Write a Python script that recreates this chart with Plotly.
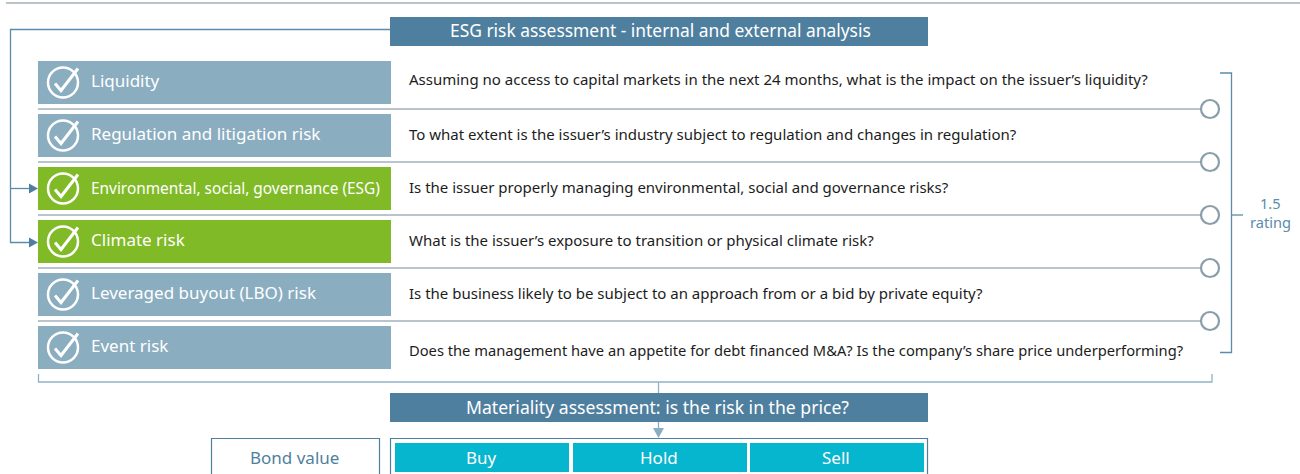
import plotly.graph_objects as go

risk_labels = ["Liquidity", "Regulation and litigation risk", "Environmental, social, governance (ESG)",
               "Climate risk", "Leveraged buyout (LBO) risk", "Event risk"]
questions = [
    "Assuming no access to capital markets in the next 24 months, what is the impact on the issuer\u2019s liquidity?",
    "To what extent is the issuer\u2019s industry subject to regulation and changes in regulation?",
    "Is the issuer properly managing environmental, social and governance risks?",
    "What is the issuer\u2019s exposure to transition or physical climate risk?",
    "Is the business likely to be subject to an approach from or a bid by private equity?",
    "Does the management have an appetite for debt financed M&A? Is the company\u2019s share price underperforming?",
]
highlighted = ["Environmental, social, governance (ESG)", "Climate risk"]
title_top = "ESG risk assessment - internal and external analysis"
title_mid = "Materiality assessment: is the risk in the price?"
left_box = "Bond value"
actions = ["Buy", "Hold", "Sell"]
rating = ["1.5", "rating"]

DARK, PALE, GREEN, CYAN = "#4f7f9f", "#8badc0", "#80ba27", "#06b6cf"
RULE, RING, LINE = "#b8c5cc", "#8a9ea9", "#5b8cab"
FONT = "Noto Sans"
shapes, ann = [], []


def rect(x0, y0, x1, y1, fill, line=None, lw=0):
    shapes.append(dict(type="rect", x0=x0, y0=y0, x1=x1, y1=y1, fillcolor=fill,
                       line=dict(color=line or fill, width=lw), layer="below"))


def seg(d, color=LINE, w=1.3):
    shapes.append(dict(type="path", path=d, line=dict(color=color, width=w), layer="below"))


def tri(d, color):
    shapes.append(dict(type="path", path=d, fillcolor=color, line=dict(color=color, width=0)))


def text(x, y, s, size, color, anchor="center"):
    ann.append(dict(x=x, y=y, text=s, showarrow=False, xanchor=anchor, yanchor="middle",
                    font=dict(family=FONT, size=size, color=color)))


seg("M 6 3 L 1300 3", "#a6b0b6", 1.5)
rect(390, 17, 928, 46, DARK)
text(660, 30, title_top, 17.4, "white")
seg("M 390 29.5 L 10.5 29.5 L 10.5 242.5 L 30 242.5")
seg("M 10.5 188.5 L 30 188.5")
for y in (188.5, 242.5):
    tri(f"M 29 {y-5} L 38 {y} L 29 {y+5} Z", DARK)

label_dy = [-2, -2, 0, -2, -2, -2]
quest_dy = [-3, -1, -1, -1, -1, 3]
quest_size = [15, 15, 15, 15, 15, 14.7]
for i, (lab, q) in enumerate(zip(risk_labels, questions)):
    top = 61 + 53 * i
    rect(38, top, 391, top + 43, GREEN if lab in highlighted else PALE)
    cy = top + 21.5
    shapes.append(dict(type="circle", x0=48, y0=cy - 15, x1=78, y1=cy + 15,
                       line=dict(color="white", width=2.5), fillcolor="rgba(0,0,0,0)"))
    seg(f"M 55 {cy+1} L 61 {cy+8} L 78 {cy-14}", "white", 3)
    size = 15.4 if len(lab) > 35 else 17
    text(89, cy + label_dy[i], lab, size, "white", "left")
    text(407, cy + quest_dy[i] - 1, q, quest_size[i], "#1c1c1c", "left")
    if i < 5:
        ly = top + 48
        seg(f"M 38 {ly} L 1201 {ly}", RULE, 1.8)
        shapes.append(dict(type="circle", x0=1201, y0=ly - 9, x1=1219, y1=ly + 9,
                           line=dict(color=RING, width=2.2), fillcolor="white"))

seg("M 1220 73 L 1231.5 73 L 1231.5 352.5 L 1220 352.5")
seg("M 1231.5 215 L 1243 215")
text(1270, 203, rating[0], 14.6, LINE)
text(1270, 222, rating[1], 14.6, LINE)

seg("M 38.5 374 L 38.5 382 L 1212 382 L 1212 374", "#8fb3c6")
seg("M 658.5 382 L 658.5 393", "#8fb3c6")
rect(390, 393, 928, 422, DARK)
text(657, 407, title_mid, 17.6, "white")
seg("M 658.5 422 L 658.5 430", PALE)
tri("M 653 428 L 664 428 L 658.5 438 Z", PALE)

rect(211.5, 438.5, 379.5, 480, "white", DARK, 1.2)
text(294, 457, left_box, 17, DARK)
rect(390.5, 438.5, 927.5, 480, "white", DARK, 1.2)
for a, x0, x1 in zip(actions, (395, 573, 750), (569, 747, 924)):
    rect(x0, 443, x1, 472, CYAN)
    text((x0 + x1) / 2 - 1, 457, a, 17, "white")

fig = go.Figure()
fig.update_layout(width=1300, height=474, margin=dict(l=0, r=0, t=0, b=0),
                  paper_bgcolor="white", plot_bgcolor="white", showlegend=False,
                  xaxis=dict(range=[0, 1300], visible=False, fixedrange=True),
                  yaxis=dict(range=[474, 0], visible=False, fixedrange=True),
                  shapes=shapes, annotations=ann)
fig.write_html("out.html", config=dict(displayModeBar=False),
               post_script="document.body.style.margin='0';document.body.style.overflow='hidden';")
